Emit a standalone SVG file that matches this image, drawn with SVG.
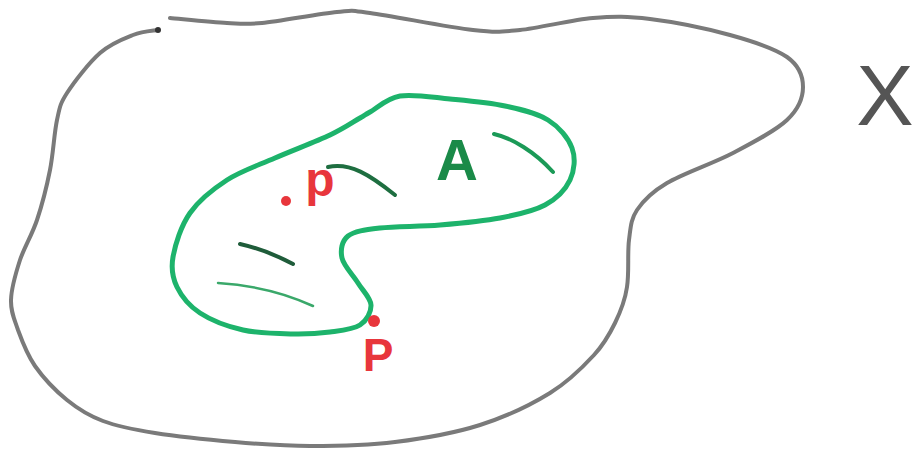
<svg xmlns="http://www.w3.org/2000/svg" width="923" height="461" viewBox="0 0 923 461">
<style>
.outer{fill:none;stroke:#7a7a7a;stroke-width:4;stroke-linecap:round;stroke-linejoin:round}
.blob{fill:none;stroke:#1db36b;stroke-width:5;stroke-linecap:round;stroke-linejoin:round}
.mark{fill:none;stroke-linecap:round}
.red{fill:#e8363c}
.lbl{font-family:"Liberation Sans",Arial,sans-serif}
</style>
<rect width="923" height="461" fill="#fff"/>
<g id="space-X">
<path class="outer" d="M170,18 C179.5,18.8 211.7,22.2 227,23 C242.3,23.8 243.7,24.8 262,23 C280.3,21.2 319,13.7 337,12 C355,10.3 347.3,10 370,13 C392.7,16 448,27.2 473,30 C498,32.8 500,32 520,30 C540,28 571.3,19.8 593,18 C614.7,16.2 627.2,16.2 650,19 C672.8,21.8 707.2,28.7 730,35 C752.8,41.3 774.8,48.3 787,57 C799.2,65.7 803,76.5 803,87 C803,97.5 798.7,109 787,120 C775.3,131 753,142.5 733,153 C713,163.5 683,173.5 667,183 C651,192.5 643.3,200.5 637,210 C630.7,219.5 630.7,227.2 629,240 C627.3,252.8 629.3,273.2 627,287 C625,300.8 620.5,311.7 615,323 C609.5,334.3 604.8,343.3 594,355 C583.2,366.7 569,381.3 550,393 C531,404.7 505.8,416.8 480,425 C454.2,433.2 423.3,438.5 395,442 C366.7,445.5 336.7,446 310,446 C283.3,446 260.8,444.2 235,442 C209.2,439.8 177,436.5 155,433 C133,429.5 117.7,426.5 103,421 C88.3,415.5 78.3,409.2 67,400 C55.7,390.8 43.2,377.7 35,366 C26.8,354.3 22,341 18,330 C14,318 10.7,311.7 11,300 C11.3,288.3 15.7,273.3 20,260 C24.5,246.7 32,235 37,220 C42,205 46.7,186.7 50,170 C53.3,153.3 54.2,132.8 57,120 C59.8,107.2 59.8,104.2 67,93 C74.2,81.8 89,62.7 100,53 C111,43.3 123.3,38.8 133,35 C142.7,31.2 153.8,30.8 158,30"/>
<circle cx="158" cy="30" r="3" fill="#333"/>
<text class="lbl" x="885" y="125" font-size="86" fill="#555" text-anchor="middle">X</text>
</g>
<g id="set-A">
<path class="blob" d="M370,112 C376.7,108.3 386.7,98.2 400,96 C413.3,93.8 432.5,97.3 450,99 C467.5,100.7 488.7,102.5 505,106 C521.3,109.5 536.8,113 548,120 C559.2,127 568.3,138 572,148 C575.7,158 574.5,170.5 570,180 C565.5,189.5 556.7,198.7 545,205 C533.3,211.3 517.5,214.7 500,218 C482.5,221.3 460,223.3 440,225 C420,226.7 395.3,226.2 380,228 C364.7,229.8 354.3,231 348,236 C341.7,241 340.3,250.2 342,258 C343.7,265.8 353.2,275.2 358,283 C362.8,290.8 370.7,298 371,305 C371.3,312 366.8,320.5 360,325 C353.2,329.5 341.2,330.5 330,332 C318.8,333.5 307.5,334.3 293,334 C278.5,333.7 258.5,333.5 243,330 C227.5,326.5 211,320.2 200,313 C189,305.8 181.5,296.3 177,287 C172.5,277.7 170.8,269.3 173,257 C175.2,244.7 181,225.8 190,213 C199,200.2 212.8,189.2 227,180 C241.2,170.8 257.8,165.5 275,158 C292.2,150.5 315.8,141.7 330,135 C344.2,128.3 353.3,121.8 360,118 C366.7,114.2 363.3,115.7 370,112 Z"/>
<path class="mark" stroke="#1e6e40" stroke-width="4" d="M328,167 C350,162 370,175 395,195"/>
<path class="mark" stroke="#1b9a57" stroke-width="4" d="M494,134 C512,138 535,152 553,172"/>
<path class="mark" stroke="#1f5c3a" stroke-width="4" d="M240,244 C258,248 276,255 293,264"/>
<path class="mark" stroke="#3aa86a" stroke-width="2.5" d="M218,283 C250,285 285,293 313,306"/>
<text class="lbl" x="457" y="180" font-size="58" font-weight="bold" fill="#1a8a48" text-anchor="middle">A</text>
</g>
<g id="point-p-interior">
<circle class="red" cx="286" cy="201" r="5"/>
<text class="lbl" x="320" y="196" font-size="48" font-weight="bold" fill="#e8363c" text-anchor="middle">p</text>
</g>
<g id="point-P-boundary">
<circle class="red" cx="374" cy="321" r="6"/>
<text class="lbl" x="378" y="371" font-size="46" font-weight="bold" fill="#e8363c" text-anchor="middle">P</text>
</g>
</svg>
